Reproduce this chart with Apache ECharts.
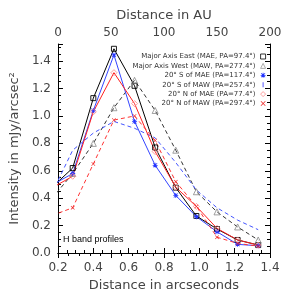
<!DOCTYPE html>
<html><head><meta charset="utf-8">
<script src="https://cdn.jsdelivr.net/npm/echarts@6/dist/echarts.min.js"></script>
<style>html,body{margin:0;padding:0;background:#fff}#c{width:300px;height:300px}</style>
</head><body><div id="c"></div>
<script>
// x positions of the radial profile samples (arcsec)
const radii = [0.1667, 0.2833, 0.4, 0.5167, 0.6333, 0.75, 0.8667, 0.9833, 1.1, 1.2167, 1.3333];
const maeVals   = [0.48, 0.62, 1.13, 1.49, 1.22, 0.77, 0.477, 0.27, 0.175, 0.095, 0.058];
const mawVals   = [0.40, 0.58, 0.80, 1.06, 1.26, 1.04, 0.75, 0.447, 0.30, 0.19, 0.095];
const sMaeVals  = [0.496, 0.58, 1.04, 1.445, 0.96, 0.64, 0.42, 0.265, 0.155, 0.063, 0.053];
const sMawVals  = [0.44, 0.75, 0.875, 0.96, 0.91, 0.84, 0.66, 0.46, 0.33, 0.24, 0.17];
const nMaeVals  = [0.476, 0.56, 1.03, 1.316, 1.09, 0.74, 0.48, 0.34, 0.18, 0.095, 0.058];
const nMawVals  = [0.274, 0.33, 0.65, 0.97, 1.0, 0.82, 0.52, 0.34, 0.115, 0.07, 0.05];
const seriesNames = [
  'Major Axis East (MAE, PA=97.4°)',
  'Major Axis West (MAW, PA=277.4°)',
  '20° S of MAE (PA=117.4°)',
  '20° S of MAW (PA=257.4°)',
  '20° N of MAE (PA=77.4°)',
  '20° N of MAW (PA=297.4°)'
];
const annotation = 'H band profiles';

const CROSS = 'path://M0,1 L1,0 L5,4 L9,0 L10,1 L6,5 L10,9 L9,10 L5,6 L1,10 L0,9 L4,5 Z';
const AST = 'path://M4.2,0 L5.8,0 L5.8,4.2 L10,4.2 L10,5.8 L5.8,5.8 L5.8,10 L4.2,10 L4.2,5.8 L0,5.8 L0,4.2 L4.2,4.2 Z M0.5,1.5 L1.5,0.5 L5,4 L8.5,0.5 L9.5,1.5 L6,5 L9.5,8.5 L8.5,9.5 L5,6 L1.5,9.5 L0.5,8.5 L4,5 Z';
const BAR = 'path://M4,0 L6,0 L6,10 L4,10 Z';
const CLEAR = 'rgba(255,255,255,0)';

const zip = v => radii.map((x, i) => [x, v[i]]);
const FONT = 'DejaVu Sans';
const axisTxt = {color: '#444', fontSize: 12, fontFamily: FONT};
const tickLbl = v => (Math.abs(v / 0.2 - Math.round(v / 0.2)) < 1e-6) ? v.toFixed(1) : '';

function mk(name, data, color, dashed, symbol, fill, stroke, size, bw) {
  return {
    name, type: 'line', data: zip(data), xAxisIndex: 0, yAxisIndex: 0,
    lineStyle: {color, width: 1, type: dashed ? [4, 3] : 'solid'},
    itemStyle: {color: fill, borderColor: stroke, borderWidth: bw},
    symbol, symbolSize: size, showSymbol: symbol !== 'none',
    clip: true, animation: false
  };
}

const chart = echarts.init(document.getElementById('c'), null, {renderer: 'canvas'});
chart.setOption({
  animation: false,
  grid: {left: 54, right: 30, top: 44, bottom: 47},
  xAxis: [
    {type: 'value', position: 'bottom', min: 0.2, max: 1.4, interval: 0.2,
     name: 'Distance in arcseconds', nameLocation: 'middle', nameGap: 25,
     nameTextStyle: Object.assign({}, axisTxt, {fontSize: 13}),
     axisLine: {lineStyle: {color: '#000', width: 1}},
     axisTick: {inside: true, length: 5, lineStyle: {color: '#000'}},
     minorTick: {show: true, splitNumber: 4, length: 3, lineStyle: {color: '#000'}},
     axisLabel: Object.assign({margin: 9, formatter: tickLbl}, axisTxt),
     splitLine: {show: false}},
    {type: 'value', position: 'top', min: 0, max: 200, interval: 50,
     name: 'Distance in AU', nameLocation: 'middle', nameGap: 18,
     nameTextStyle: Object.assign({}, axisTxt, {fontSize: 13}),
     axisLine: {lineStyle: {color: '#000', width: 1}},
     axisTick: {inside: true, length: 5, lineStyle: {color: '#000'}},
     minorTick: {show: true, splitNumber: 5, length: 3, lineStyle: {color: '#000'}},
     axisLabel: Object.assign({margin: 5}, axisTxt),
     splitLine: {show: false}}
  ],
  yAxis: [
    {type: 'value', position: 'left', min: 0, max: 1.525, interval: 0.2,
     name: 'Intensity in mJy/arcsec²', nameLocation: 'middle', nameGap: 36,
     nameTextStyle: Object.assign({}, axisTxt, {fontSize: 13}),
     axisLine: {lineStyle: {color: '#000', width: 1}},
     axisTick: {inside: true, length: 5, lineStyle: {color: '#000'}},
     minorTick: {show: true, splitNumber: 4, length: 3, lineStyle: {color: '#000'}},
     axisLabel: Object.assign({margin: 7, formatter: tickLbl}, axisTxt),
     splitLine: {show: false}},
    {type: 'value', position: 'right', min: 0, max: 1.525, interval: 0.2,
     axisLine: {show: true, lineStyle: {color: '#000', width: 1}},
     axisTick: {inside: true, length: 5, lineStyle: {color: '#000'}},
     minorTick: {show: true, splitNumber: 4, length: 3, lineStyle: {color: '#000'}},
     axisLabel: {show: false}, splitLine: {show: false}}
  ],
  legend: {
    orient: 'vertical', right: 34, top: 52.5, align: 'right',
    itemWidth: 5, itemHeight: 5, itemGap: 1.4, padding: 0,
    textStyle: {fontSize: 7, lineHeight: 8, color: '#333', fontFamily: FONT, padding: [0, 0, 0, 0]},
    selectedMode: false,
    data: [
      {name: seriesNames[0], icon: 'rect', itemStyle: {color: CLEAR, borderColor: '#000', borderWidth: 0.8}},
      {name: seriesNames[1], icon: 'triangle', itemStyle: {color: CLEAR, borderColor: '#999', borderWidth: 0.8}},
      {name: seriesNames[2], icon: AST, itemStyle: {color: '#2233ff', borderWidth: 0}},
      {name: seriesNames[3], icon: BAR, itemStyle: {color: '#5555ff', borderWidth: 0}},
      {name: seriesNames[4], icon: 'diamond', itemStyle: {color: CLEAR, borderColor: '#ff8888', borderWidth: 0.8}},
      {name: seriesNames[5], icon: CROSS, itemStyle: {color: '#ee2222', borderWidth: 0}}
    ]
  },
  graphic: [{type: 'text', left: 63, top: 235,
    style: {text: annotation, fontSize: 9, fontFamily: 'Liberation Sans', fill: '#000'}}],
  series: [
    mk(seriesNames[0], maeVals, '#000', false, 'rect', CLEAR, '#000', 5, 0.9),
    mk(seriesNames[1], mawVals, '#333', true, 'triangle', CLEAR, '#888', 6, 0.8),
    mk(seriesNames[2], sMaeVals, '#3344ff', false, AST, '#2233ff', '#2233ff', 5, 0),
    mk(seriesNames[3], sMawVals, '#4455ff', true, 'none', '#4455ff', '#4455ff', 4, 0),
    mk(seriesNames[4], nMaeVals, '#ff2222', false, 'diamond', CLEAR, '#ff8888', 6, 0.8),
    mk(seriesNames[5], nMawVals, '#ff3333', true, CROSS, '#ee2222', '#ee2222', 4, 0)
  ]
});
</script></body></html>
